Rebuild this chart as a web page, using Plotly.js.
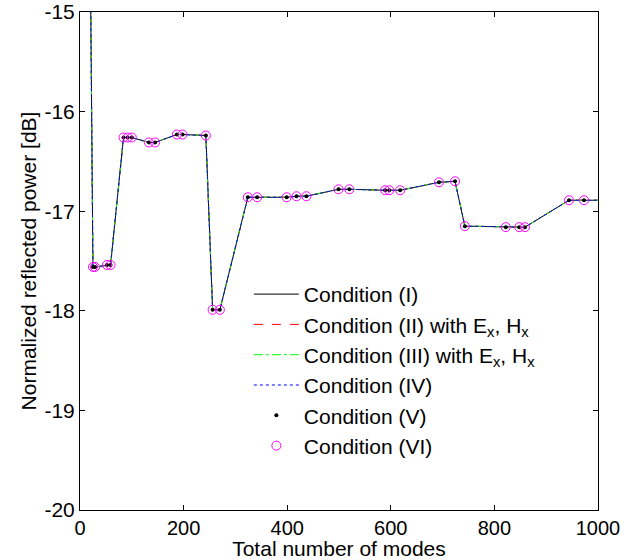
<!DOCTYPE html>
<html>
<head>
<meta charset="utf-8">
<script src="https://cdn.plot.ly/plotly-3.0.1.min.js"></script>
<style>html,body{margin:0;padding:0;background:#fff;}#chart{width:640px;height:560px;}</style>
</head>
<body>
<div id="chart"></div>
<script>
// Total number of modes
const modes = [20, 25, 29, 52, 59, 84, 92, 100, 133, 145, 187, 198, 243, 256, 270, 324, 342, 399, 418, 437, 499, 520, 589, 597, 618, 693, 724, 743, 822, 848, 859, 944, 973, 1000];
// Normalized reflected power [dB] (all conditions coincide)
const power = [-14.5, -17.56, -17.56, -17.54, -17.54, -16.26, -16.26, -16.26, -16.31, -16.31, -16.23, -16.23, -16.24, -17.99, -17.99, -16.86, -16.86, -16.86, -16.85, -16.85, -16.78, -16.78, -16.79, -16.79, -16.79, -16.71, -16.70, -17.15, -17.16, -17.16, -17.16, -16.89, -16.89, -16.89];

const seriesNames = ["Condition (I)", "Condition (II) with E<sub>x</sub>, H<sub>x</sub>", "Condition (III) with E<sub>x</sub>, H<sub>x</sub>", "Condition (IV)", "Condition (V)", "Condition (VI)"];
const xTicks = [0, 200, 400, 600, 800, 1000];
const yTicks = [-20, -19, -18, -17, -16, -15];
const yTickText = ["-20", "-19", "-18", "-17", "-16", "-15"];

const mx = modes.slice(1, modes.length - 1);
const my = power.slice(1, power.length - 1);

const traces = [
  {x: modes, y: power, name: seriesNames[0], mode: "lines", line: {color: "#000000", width: 1, dash: "solid"}},
  {x: modes, y: power, name: seriesNames[1], mode: "lines", line: {color: "#ff0000", width: 1, dash: "dash"}},
  {x: modes, y: power, name: seriesNames[2], mode: "lines", line: {color: "#00ff00", width: 1, dash: "dashdot"}},
  {x: modes, y: power, name: seriesNames[3], mode: "lines", line: {color: "#0000ff", width: 1, dash: "dot"}},
  {x: mx, y: my, name: seriesNames[4], mode: "markers", marker: {color: "#000000", size: 4, symbol: "circle"}},
  {x: mx, y: my, name: seriesNames[5], mode: "markers", marker: {color: "#ff00ff", size: 9, symbol: "circle-open", line: {width: 1}}}
];

const font = {family: "Liberation Sans, Arial, sans-serif", size: 21, color: "#000"};
const xTickFont = {family: font.family, size: 20, color: "#000"};

const layout = {
  width: 640, height: 560,
  margin: {l: 80, r: 42, t: 12, b: 50},
  paper_bgcolor: "#fff", plot_bgcolor: "#fff",
  font: font,
  showlegend: true,
  legend: {x: 0.326, y: 0.474, xanchor: "left", yanchor: "top", bgcolor: "rgba(0,0,0,0)", borderwidth: 0, font: font, itemwidth: 45, tracegroupgap: 0},
  xaxis: {
    range: [0, 1000], tickvals: xTicks, ticks: "inside", ticklen: 5, tickcolor: "#000",
    showline: true, linecolor: "#000", linewidth: 1, mirror: "ticks", showgrid: false, zeroline: false,
    tickfont: xTickFont, title: {text: "Total number of modes", font: font, standoff: 0}
  },
  yaxis: {
    range: [-20, -15], tickvals: yTicks, ticktext: yTickText, ticks: "inside", ticklen: 5, tickcolor: "#000",
    showline: true, linecolor: "#000", linewidth: 1, mirror: "ticks", showgrid: false, zeroline: false,
    tickfont: font, title: {text: "Normalized reflected power [dB]", font: font, standoff: 2}
  }
};

Plotly.newPlot("chart", traces, layout, {displayModeBar: false, staticPlot: true});
</script>
</body>
</html>
